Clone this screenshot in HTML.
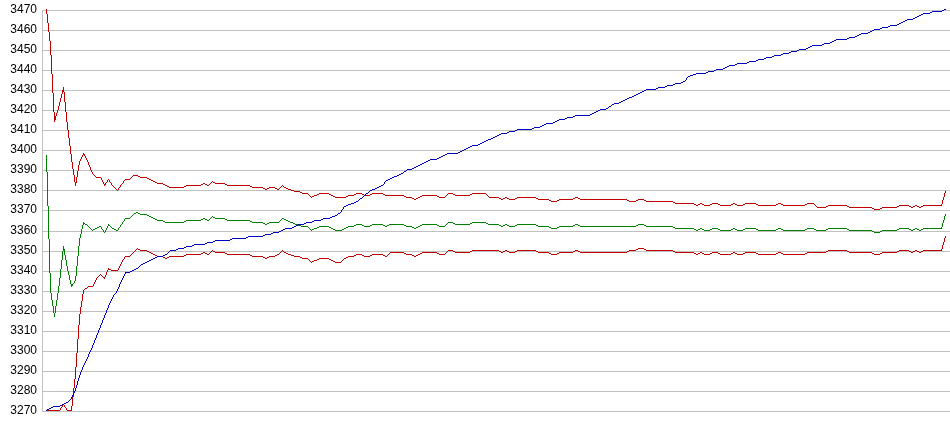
<!DOCTYPE html>
<html><head><meta charset="utf-8"><title>Chart</title>
<style>
html,body{margin:0;padding:0;background:#fff}
body{width:950px;height:435px;overflow:hidden;position:relative;font-family:"Liberation Sans",sans-serif}
svg{position:absolute;left:0;top:0;display:block}
text{font-family:"Liberation Sans",sans-serif;font-size:12px;fill:#000}
</style></head>
<body>
<svg width="950" height="435" viewBox="0 0 950 435">
<rect x="0" y="0" width="950" height="435" fill="#fff"/>
<g shape-rendering="crispEdges" fill="#c0c0c0">
<rect x="42" y="10" width="908" height="1"/>
<rect x="42" y="30" width="908" height="1"/>
<rect x="42" y="50" width="908" height="1"/>
<rect x="42" y="70" width="908" height="1"/>
<rect x="42" y="90" width="908" height="1"/>
<rect x="42" y="110" width="908" height="1"/>
<rect x="42" y="130" width="908" height="1"/>
<rect x="42" y="150" width="908" height="1"/>
<rect x="42" y="170" width="908" height="1"/>
<rect x="42" y="190" width="908" height="1"/>
<rect x="42" y="210" width="908" height="1"/>
<rect x="42" y="231" width="908" height="1"/>
<rect x="42" y="251" width="908" height="1"/>
<rect x="42" y="271" width="908" height="1"/>
<rect x="42" y="291" width="908" height="1"/>
<rect x="42" y="311" width="908" height="1"/>
<rect x="42" y="331" width="908" height="1"/>
<rect x="42" y="351" width="908" height="1"/>
<rect x="42" y="371" width="908" height="1"/>
<rect x="42" y="391" width="908" height="1"/>
<rect x="42" y="411" width="908" height="1"/>
<rect x="42" y="10" width="1" height="402"/>
</g>
<g text-anchor="end">
<text x="37" y="12.8">3470</text>
<text x="37" y="32.8">3460</text>
<text x="37" y="52.8">3450</text>
<text x="37" y="72.8">3440</text>
<text x="37" y="92.8">3430</text>
<text x="37" y="112.8">3420</text>
<text x="37" y="132.8">3410</text>
<text x="37" y="152.8">3400</text>
<text x="37" y="172.8">3390</text>
<text x="37" y="192.8">3380</text>
<text x="37" y="212.8">3370</text>
<text x="37" y="233.8">3360</text>
<text x="37" y="253.8">3350</text>
<text x="37" y="273.8">3340</text>
<text x="37" y="293.8">3330</text>
<text x="37" y="313.8">3320</text>
<text x="37" y="333.8">3310</text>
<text x="37" y="353.8">3300</text>
<text x="37" y="373.8">3290</text>
<text x="37" y="393.8">3280</text>
<text x="37" y="413.8">3270</text>
</g>
<g shape-rendering="crispEdges" stroke="none">
<path fill="#c00000" d="M46 9h1v5h-1zM47 14h1v9h-1zM48 23h1v9h-1zM49 32h1v9h-1zM50 41h1v14h-1zM51 55h1v19h-1zM52 74h1v19h-1zM53 93h1v19h-1zM54 112h1v4h-1zM54 116h2v1h-2zM54 117h2v1h-2zM54 118h2v1h-2zM54 119h2v1h-2zM54 120h1v2h-1zM56 113h1v3h-1zM57 110h1v3h-1zM58 106h1v4h-1zM59 102h1v4h-1zM60 98h1v4h-1zM61 94h1v4h-1zM62 90h2v1h-2zM62 91h2v1h-2zM62 92h1v2h-1zM63 87h1v3h-1zM64 92h1v10h-1zM65 102h1v10h-1zM66 112h1v10h-1zM67 122h1v8h-1zM68 130h1v8h-1zM69 138h1v8h-1zM70 146h1v8h-1zM71 154h1v8h-1zM72 162h1v7h-1zM73 169h1v6h-1zM74 175h1v7h-1zM75 182h2v1h-2zM75 183h1v3h-1zM76 177h1v5h-1zM77 171h1v6h-1zM78 165h1v6h-1zM79 161h1v4h-1zM80 159h1v2h-1zM81 157h1v2h-1zM82 155h1v2h-1zM83 153h1v1h-1zM83 154h2v1h-2zM84 155h1v1h-1zM85 156h1v2h-1zM86 158h1v2h-1zM87 160h1v2h-1zM88 162h1v3h-1zM89 165h1v2h-1zM90 167h1v3h-1zM91 170h1v2h-1zM92 172h1v2h-1zM93 174h1v1h-1zM94 175h1v1h-1zM95 176h1v1h-1zM96 177h5v1h-5zM101 178h1v2h-1zM102 180h1v2h-1zM103 182h1v2h-1zM104 184h2v1h-2zM104 185h1v1h-1zM105 183h1v1h-1zM106 182h1v1h-1zM107 180h1v2h-1zM108 179h1v1h-1zM109 180h1v2h-1zM110 182h1v1h-1zM111 183h1v2h-1zM112 185h1v1h-1zM113 186h1v1h-1zM114 187h1v1h-1zM115 188h1v1h-1zM116 189h1v1h-1zM117 190h1v1h-1zM118 188h1v2h-1zM119 187h1v1h-1zM120 185h1v2h-1zM121 184h1v1h-1zM122 183h1v1h-1zM123 181h1v2h-1zM124 180h1v1h-1zM125 179h5v1h-5zM130 178h1v1h-1zM131 177h1v1h-1zM132 176h1v1h-1zM133 175h5v1h-5zM138 176h2v1h-2zM140 177h7v1h-7zM147 178h2v1h-2zM149 179h2v1h-2zM151 180h2v1h-2zM153 181h2v1h-2zM155 182h2v1h-2zM157 183h6v1h-6zM163 184h2v1h-2zM165 185h2v1h-2zM167 186h2v1h-2zM169 187h15v1h-15zM184 186h2v1h-2zM186 185h15v1h-15zM201 184h2v1h-2zM203 183h2v1h-2zM205 184h2v1h-2zM207 185h2v1h-2zM209 184h1v1h-1zM210 183h1v1h-1zM211 182h1v1h-1zM212 181h1v1h-1zM213 182h2v1h-2zM215 183h10v1h-10zM225 184h2v1h-2zM227 185h23v1h-23zM250 186h2v1h-2zM252 187h11v1h-11zM263 188h2v1h-2zM265 189h2v1h-2zM267 188h2v1h-2zM269 187h6v1h-6zM275 188h2v1h-2zM277 189h2v1h-2zM279 188h1v1h-1zM280 187h1v1h-1zM281 186h1v1h-1zM282 185h1v1h-1zM283 186h1v1h-1zM284 187h2v1h-2zM286 188h2v1h-2zM288 189h3v1h-3zM291 190h3v1h-3zM294 191h6v1h-6zM300 192h2v1h-2zM302 193h6v1h-6zM308 194h1v1h-1zM309 195h1v1h-1zM310 196h1v1h-1zM311 197h1v1h-1zM312 196h2v1h-2zM314 195h3v1h-3zM317 194h2v1h-2zM319 193h10v1h-10zM329 194h2v1h-2zM331 195h2v1h-2zM333 196h2v1h-2zM335 197h11v1h-11zM346 196h2v1h-2zM348 195h6v1h-6zM354 194h2v1h-2zM356 193h6v1h-6zM362 194h2v1h-2zM364 195h6v1h-6zM370 194h2v1h-2zM372 193h11v1h-11zM383 194h2v1h-2zM385 195h19v1h-19zM404 196h2v1h-2zM406 197h6v1h-6zM412 198h2v1h-2zM414 199h2v1h-2zM416 198h2v1h-2zM418 197h2v1h-2zM420 196h2v1h-2zM422 195h15v1h-15zM437 196h2v1h-2zM439 197h6v1h-6zM445 196h1v1h-1zM446 195h1v1h-1zM447 194h1v1h-1zM448 193h5v1h-5zM453 194h2v1h-2zM455 195h15v1h-15zM470 194h2v1h-2zM472 193h14v1h-14zM486 194h1v1h-1zM487 195h1v1h-1zM488 196h1v1h-1zM489 197h10v1h-10zM499 198h2v1h-2zM501 199h2v1h-2zM503 198h2v1h-2zM505 197h2v1h-2zM507 198h2v1h-2zM509 199h6v1h-6zM515 198h2v1h-2zM517 197h19v1h-19zM536 198h2v1h-2zM538 199h11v1h-11zM549 200h2v1h-2zM551 201h6v1h-6zM557 200h2v1h-2zM559 199h14v1h-14zM573 198h2v1h-2zM575 197h3v1h-3zM578 198h2v1h-2zM580 199h47v1h-47zM627 200h2v1h-2zM629 201h7v1h-7zM636 200h2v1h-2zM638 199h6v1h-6zM644 200h2v1h-2zM646 201h27v1h-27zM673 202h2v1h-2zM675 203h19v1h-19zM694 204h2v1h-2zM696 205h2v1h-2zM698 204h2v1h-2zM700 203h2v1h-2zM702 204h2v1h-2zM704 205h6v1h-6zM710 204h2v1h-2zM712 203h6v1h-6zM718 204h2v1h-2zM720 205h11v1h-11zM731 204h2v1h-2zM733 203h2v1h-2zM735 204h2v1h-2zM737 205h6v1h-6zM743 204h2v1h-2zM745 203h11v1h-11zM756 204h2v1h-2zM758 205h18v1h-18zM776 204h2v1h-2zM778 203h3v1h-3zM781 204h2v1h-2zM783 205h22v1h-22zM805 204h2v1h-2zM807 203h7v1h-7zM814 204h1v1h-1zM815 205h1v1h-1zM816 206h1v1h-1zM817 207h9v1h-9zM826 206h2v1h-2zM828 205h19v1h-19zM847 206h2v1h-2zM849 207h23v1h-23zM872 208h2v1h-2zM874 209h6v1h-6zM880 208h2v1h-2zM882 207h15v1h-15zM897 206h2v1h-2zM899 205h10v1h-10zM909 206h2v1h-2zM911 207h2v1h-2zM913 206h2v1h-2zM915 205h2v1h-2zM917 206h2v1h-2zM919 207h2v1h-2zM921 206h2v1h-2zM923 205h19v1h-19zM941 204h1v1h-1zM942 200h1v4h-1zM943 197h1v3h-1zM944 193h1v4h-1zM945 191h1v2h-1z"/>
<path fill="#c00000" d="M46 410h14v1h-14zM60 408h1v2h-1zM61 407h1v1h-1zM62 405h1v2h-1zM63 404h1v1h-1zM64 405h1v2h-1zM65 407h1v1h-1zM66 408h1v2h-1zM67 410h5v1h-5zM71 406h1v4h-1zM72 397h1v9h-1zM73 388h1v9h-1zM74 379h1v9h-1zM75 367h1v12h-1zM76 353h1v14h-1zM77 339h1v14h-1zM78 325h1v14h-1zM79 314h1v11h-1zM80 307h1v7h-1zM81 301h1v6h-1zM82 294h1v7h-1zM83 290h1v4h-1zM84 289h1v1h-1zM85 288h2v1h-2zM87 287h1v1h-1zM88 286h5v1h-5zM93 284h1v2h-1zM94 282h1v2h-1zM95 280h1v2h-1zM96 278h1v2h-1zM97 277h1v1h-1zM98 276h1v1h-1zM99 275h1v1h-1zM100 274h1v1h-1zM101 275h1v1h-1zM102 276h1v1h-1zM103 277h2v1h-2zM104 278h1v1h-1zM105 275h1v2h-1zM106 272h1v3h-1zM107 270h1v2h-1zM108 268h1v1h-1zM108 269h3v1h-3zM111 270h7v1h-7zM118 268h1v2h-1zM119 266h1v2h-1zM120 264h1v2h-1zM121 262h1v2h-1zM122 260h1v2h-1zM123 259h1v1h-1zM124 257h1v2h-1zM125 256h5v1h-5zM130 255h1v1h-1zM131 254h1v1h-1zM132 253h1v1h-1zM133 252h1v1h-1zM134 251h1v1h-1zM135 250h1v1h-1zM136 249h1v1h-1zM137 248h1v1h-1zM138 249h2v1h-2zM140 250h7v1h-7zM147 251h2v1h-2zM149 252h2v1h-2zM151 253h2v1h-2zM153 254h2v1h-2zM155 255h2v1h-2zM157 256h6v1h-6zM163 257h2v1h-2zM165 258h2v1h-2zM167 257h2v1h-2zM169 256h15v1h-15zM184 255h2v1h-2zM186 254h15v1h-15zM201 253h2v1h-2zM203 252h2v1h-2zM205 253h2v1h-2zM207 254h2v1h-2zM209 253h1v1h-1zM210 252h1v1h-1zM211 251h1v1h-1zM212 250h1v1h-1zM213 251h2v1h-2zM215 252h10v1h-10zM225 253h2v1h-2zM227 254h23v1h-23zM250 255h2v1h-2zM252 256h11v1h-11zM263 257h2v1h-2zM265 258h2v1h-2zM267 257h2v1h-2zM269 256h6v1h-6zM275 255h2v1h-2zM277 254h2v1h-2zM279 253h1v1h-1zM280 252h1v1h-1zM281 251h1v1h-1zM282 250h1v1h-1zM283 251h1v1h-1zM284 252h2v1h-2zM286 253h2v1h-2zM288 254h3v1h-3zM291 255h3v1h-3zM294 256h6v1h-6zM300 257h2v1h-2zM302 258h6v1h-6zM308 259h1v1h-1zM309 260h1v1h-1zM310 261h1v1h-1zM311 262h1v1h-1zM312 261h2v1h-2zM314 260h3v1h-3zM317 259h2v1h-2zM319 258h10v1h-10zM329 259h2v1h-2zM331 260h2v1h-2zM333 261h2v1h-2zM335 262h6v1h-6zM341 261h1v1h-1zM342 260h1v1h-1zM343 259h1v1h-1zM344 258h2v1h-2zM346 257h2v1h-2zM348 256h6v1h-6zM354 255h2v1h-2zM356 254h6v1h-6zM362 255h2v1h-2zM364 256h6v1h-6zM370 255h2v1h-2zM372 254h11v1h-11zM383 255h2v1h-2zM385 256h2v1h-2zM387 255h1v1h-1zM388 254h1v1h-1zM389 253h1v1h-1zM390 252h14v1h-14zM404 253h2v1h-2zM406 254h6v1h-6zM412 255h2v1h-2zM414 256h2v1h-2zM416 255h2v1h-2zM418 254h2v1h-2zM420 253h2v1h-2zM422 252h15v1h-15zM437 253h2v1h-2zM439 254h6v1h-6zM445 253h1v1h-1zM446 252h1v1h-1zM447 251h1v1h-1zM448 250h5v1h-5zM453 251h2v1h-2zM455 252h15v1h-15zM470 251h2v1h-2zM472 250h27v1h-27zM499 251h2v1h-2zM501 252h2v1h-2zM503 251h2v1h-2zM505 250h2v1h-2zM507 251h2v1h-2zM509 252h6v1h-6zM515 251h2v1h-2zM517 250h19v1h-19zM536 251h2v1h-2zM538 252h11v1h-11zM549 253h2v1h-2zM551 254h6v1h-6zM557 253h2v1h-2zM559 252h14v1h-14zM573 251h2v1h-2zM575 250h3v1h-3zM578 251h2v1h-2zM580 252h47v1h-47zM627 251h2v1h-2zM629 250h7v1h-7zM636 249h2v1h-2zM638 248h6v1h-6zM644 249h2v1h-2zM646 250h27v1h-27zM673 251h2v1h-2zM675 252h19v1h-19zM694 253h2v1h-2zM696 254h2v1h-2zM698 253h2v1h-2zM700 252h2v1h-2zM702 253h2v1h-2zM704 254h6v1h-6zM710 253h2v1h-2zM712 252h6v1h-6zM718 253h2v1h-2zM720 254h11v1h-11zM731 253h2v1h-2zM733 252h2v1h-2zM735 253h2v1h-2zM737 254h6v1h-6zM743 253h2v1h-2zM745 252h11v1h-11zM756 253h2v1h-2zM758 254h18v1h-18zM776 253h2v1h-2zM778 252h3v1h-3zM781 253h2v1h-2zM783 254h22v1h-22zM805 253h2v1h-2zM807 252h19v1h-19zM826 251h2v1h-2zM828 250h19v1h-19zM847 251h2v1h-2zM849 252h23v1h-23zM872 253h2v1h-2zM874 254h6v1h-6zM880 253h2v1h-2zM882 252h15v1h-15zM897 251h2v1h-2zM899 250h10v1h-10zM909 251h2v1h-2zM911 252h2v1h-2zM913 251h2v1h-2zM915 250h2v1h-2zM917 251h2v1h-2zM919 252h2v1h-2zM921 251h2v1h-2zM923 250h19v1h-19zM941 249h1v1h-1zM942 245h1v4h-1zM943 242h1v3h-1zM944 238h1v4h-1zM945 236h1v2h-1z"/>
<path fill="#008000" d="M46 155h1v17h-1zM47 172h1v34h-1zM48 206h1v33h-1zM49 239h1v34h-1zM50 273h1v20h-1zM51 293h1v7h-1zM52 300h1v6h-1zM53 306h1v7h-1zM54 313h1v4h-1zM55 306h1v7h-1zM56 300h1v6h-1zM57 293h1v7h-1zM58 286h1v7h-1zM59 278h1v8h-1zM60 269h1v9h-1zM61 260h1v9h-1zM62 251h1v9h-1zM63 246h1v3h-1zM63 249h2v1h-2zM63 250h2v1h-2zM64 251h1v4h-1zM65 255h1v5h-1zM66 260h1v6h-1zM67 266h1v5h-1zM68 271h1v4h-1zM69 275h1v5h-1zM70 280h1v4h-1zM71 284h2v1h-2zM71 285h2v1h-2zM71 286h1v1h-1zM73 283h1v1h-1zM74 281h1v2h-1zM75 276h1v5h-1zM76 266h1v10h-1zM77 256h1v10h-1zM78 246h1v10h-1zM79 238h1v8h-1zM80 234h1v4h-1zM81 229h1v5h-1zM82 225h1v4h-1zM83 222h1v1h-1zM83 223h2v1h-2zM83 224h1v1h-1zM85 224h2v1h-2zM87 225h1v1h-1zM88 226h1v1h-1zM89 227h1v1h-1zM90 228h1v1h-1zM91 229h1v1h-1zM92 230h1v1h-1zM93 229h2v1h-2zM95 228h2v1h-2zM97 227h2v1h-2zM99 226h2v1h-2zM101 227h1v2h-1zM102 229h1v1h-1zM103 230h1v2h-1zM104 232h1v1h-1zM105 230h1v2h-1zM106 228h1v2h-1zM107 226h1v2h-1zM108 224h1v1h-1zM108 225h2v1h-2zM110 226h1v1h-1zM111 227h1v1h-1zM112 228h2v1h-2zM114 229h2v1h-2zM116 230h2v1h-2zM118 228h1v2h-1zM119 227h1v1h-1zM120 225h1v2h-1zM121 224h1v1h-1zM122 222h1v2h-1zM123 221h1v1h-1zM124 219h1v2h-1zM125 218h5v1h-5zM130 217h1v1h-1zM131 216h1v1h-1zM132 215h1v1h-1zM133 214h1v1h-1zM134 213h2v1h-2zM136 212h2v1h-2zM138 213h2v1h-2zM140 214h7v1h-7zM147 215h2v1h-2zM149 216h2v1h-2zM151 217h2v1h-2zM153 218h2v1h-2zM155 219h2v1h-2zM157 220h6v1h-6zM163 221h2v1h-2zM165 222h19v1h-19zM184 221h2v1h-2zM186 220h15v1h-15zM201 219h2v1h-2zM203 218h2v1h-2zM205 219h2v1h-2zM207 220h2v1h-2zM209 219h1v1h-1zM210 218h1v1h-1zM211 217h1v1h-1zM212 216h1v1h-1zM213 217h2v1h-2zM215 218h10v1h-10zM225 219h2v1h-2zM227 220h23v1h-23zM250 221h2v1h-2zM252 222h11v1h-11zM263 223h2v1h-2zM265 224h2v1h-2zM267 223h2v1h-2zM269 222h10v1h-10zM279 221h1v1h-1zM280 220h1v1h-1zM281 219h1v1h-1zM282 218h2v1h-2zM284 219h2v1h-2zM286 220h2v1h-2zM288 221h2v1h-2zM290 222h3v1h-3zM293 223h2v1h-2zM295 224h3v1h-3zM298 225h3v1h-3zM301 226h7v1h-7zM308 227h1v1h-1zM309 228h1v1h-1zM310 229h1v1h-1zM311 230h1v1h-1zM312 229h2v1h-2zM314 228h3v1h-3zM317 227h2v1h-2zM319 226h10v1h-10zM329 227h2v1h-2zM331 228h2v1h-2zM333 229h2v1h-2zM335 230h7v1h-7zM342 229h2v1h-2zM344 228h2v1h-2zM346 227h2v1h-2zM348 226h6v1h-6zM354 225h2v1h-2zM356 224h6v1h-6zM362 225h2v1h-2zM364 226h6v1h-6zM370 225h2v1h-2zM372 224h11v1h-11zM383 225h2v1h-2zM385 226h2v1h-2zM387 225h2v1h-2zM389 224h15v1h-15zM404 225h2v1h-2zM406 226h6v1h-6zM412 227h2v1h-2zM414 228h2v1h-2zM416 227h2v1h-2zM418 226h2v1h-2zM420 225h2v1h-2zM422 224h15v1h-15zM437 225h2v1h-2zM439 226h6v1h-6zM445 225h1v1h-1zM446 224h1v1h-1zM447 223h1v1h-1zM448 222h5v1h-5zM453 223h2v1h-2zM455 224h15v1h-15zM470 223h2v1h-2zM472 222h14v1h-14zM486 223h2v1h-2zM488 224h11v1h-11zM499 225h2v1h-2zM501 226h2v1h-2zM503 225h2v1h-2zM505 224h2v1h-2zM507 225h2v1h-2zM509 226h6v1h-6zM515 225h2v1h-2zM517 224h19v1h-19zM536 225h2v1h-2zM538 226h11v1h-11zM549 227h2v1h-2zM551 228h6v1h-6zM557 227h2v1h-2zM559 226h14v1h-14zM573 225h2v1h-2zM575 224h3v1h-3zM578 225h2v1h-2zM580 226h56v1h-56zM636 225h2v1h-2zM638 224h6v1h-6zM644 225h2v1h-2zM646 226h27v1h-27zM673 227h2v1h-2zM675 228h19v1h-19zM694 229h2v1h-2zM696 230h2v1h-2zM698 229h2v1h-2zM700 228h2v1h-2zM702 229h2v1h-2zM704 230h6v1h-6zM710 229h2v1h-2zM712 228h6v1h-6zM718 229h2v1h-2zM720 230h11v1h-11zM731 229h2v1h-2zM733 228h2v1h-2zM735 229h2v1h-2zM737 230h6v1h-6zM743 229h2v1h-2zM745 228h11v1h-11zM756 229h2v1h-2zM758 230h18v1h-18zM776 229h2v1h-2zM778 228h3v1h-3zM781 229h2v1h-2zM783 230h22v1h-22zM805 229h2v1h-2zM807 228h7v1h-7zM814 229h2v1h-2zM816 230h10v1h-10zM826 229h2v1h-2zM828 228h19v1h-19zM847 229h2v1h-2zM849 230h23v1h-23zM872 231h2v1h-2zM874 232h6v1h-6zM880 231h2v1h-2zM882 230h15v1h-15zM897 229h2v1h-2zM899 228h10v1h-10zM909 229h2v1h-2zM911 230h2v1h-2zM913 229h2v1h-2zM915 228h2v1h-2zM917 229h2v1h-2zM919 230h2v1h-2zM921 229h2v1h-2zM923 228h19v1h-19zM941 227h1v1h-1zM942 223h1v4h-1zM943 220h1v3h-1zM944 216h1v4h-1zM945 214h1v2h-1z"/>
<path fill="#0000c0" d="M46 410h1v1h-1zM47 409h2v1h-2zM49 408h2v1h-2zM51 407h2v1h-2zM53 406h7v1h-7zM60 405h2v1h-2zM62 404h2v1h-2zM64 403h2v1h-2zM66 402h2v1h-2zM68 401h1v1h-1zM69 400h1v1h-1zM70 399h1v1h-1zM71 397h1v2h-1zM72 395h1v2h-1zM73 393h1v2h-1zM74 391h1v2h-1zM75 388h1v3h-1zM76 385h1v3h-1zM77 381h1v4h-1zM78 378h1v3h-1zM79 375h1v3h-1zM80 372h1v3h-1zM81 370h1v2h-1zM82 367h1v3h-1zM83 365h1v2h-1zM84 363h1v2h-1zM85 361h1v2h-1zM86 359h1v2h-1zM87 357h1v2h-1zM88 354h1v3h-1zM89 352h1v2h-1zM90 350h1v2h-1zM91 348h1v2h-1zM92 345h1v3h-1zM93 343h1v2h-1zM94 340h1v3h-1zM95 338h1v2h-1zM96 335h1v3h-1zM97 333h1v2h-1zM98 330h1v3h-1zM99 328h1v2h-1zM100 325h1v3h-1zM101 323h1v2h-1zM102 320h1v3h-1zM103 318h1v2h-1zM104 315h1v3h-1zM105 313h1v2h-1zM106 310h1v3h-1zM107 308h1v2h-1zM108 305h1v3h-1zM109 303h1v2h-1zM110 301h1v2h-1zM111 299h1v2h-1zM112 297h1v2h-1zM113 295h1v2h-1zM114 294h1v1h-1zM115 293h1v1h-1zM116 291h1v2h-1zM117 289h1v2h-1zM118 287h1v2h-1zM119 284h1v3h-1zM120 282h1v2h-1zM121 280h1v2h-1zM122 278h1v2h-1zM123 276h1v2h-1zM124 274h1v2h-1zM125 272h5v1h-5zM125 273h1v1h-1zM130 271h2v1h-2zM132 270h2v1h-2zM134 269h2v1h-2zM136 268h2v1h-2zM138 267h1v1h-1zM139 266h1v1h-1zM140 265h1v1h-1zM141 264h2v1h-2zM143 263h2v1h-2zM145 262h2v1h-2zM147 261h2v1h-2zM149 260h2v1h-2zM151 259h2v1h-2zM153 258h2v1h-2zM155 257h2v1h-2zM157 256h6v1h-6zM163 255h2v1h-2zM165 254h2v1h-2zM167 253h1v1h-1zM168 252h1v1h-1zM169 251h1v1h-1zM170 250h6v1h-6zM176 249h2v1h-2zM178 248h6v1h-6zM184 247h2v1h-2zM186 246h6v1h-6zM192 245h2v1h-2zM194 244h11v1h-11zM205 243h2v1h-2zM207 242h6v1h-6zM213 241h2v1h-2zM215 240h15v1h-15zM230 239h2v1h-2zM232 238h14v1h-14zM246 237h2v1h-2zM248 236h15v1h-15zM263 235h2v1h-2zM265 234h6v1h-6zM271 233h2v1h-2zM273 232h6v1h-6zM279 231h2v1h-2zM281 230h2v1h-2zM283 229h2v1h-2zM285 228h7v1h-7zM292 227h2v1h-2zM294 226h2v1h-2zM296 225h2v1h-2zM298 224h6v1h-6zM304 223h2v1h-2zM306 222h6v1h-6zM312 221h2v1h-2zM314 220h7v1h-7zM321 219h2v1h-2zM323 218h7v1h-7zM330 217h2v1h-2zM332 216h3v1h-3zM335 215h2v1h-2zM337 214h1v1h-1zM338 213h2v1h-2zM340 212h1v1h-1zM341 210h1v2h-1zM342 209h1v1h-1zM343 207h1v2h-1zM344 206h2v1h-2zM346 205h2v1h-2zM348 204h3v1h-3zM351 203h3v1h-3zM354 202h2v1h-2zM356 201h2v1h-2zM358 200h1v1h-1zM359 199h1v1h-1zM360 198h2v1h-2zM362 197h1v1h-1zM363 196h1v1h-1zM364 195h1v1h-1zM365 194h1v1h-1zM366 193h2v1h-2zM368 192h1v1h-1zM369 191h1v1h-1zM370 190h2v1h-2zM372 189h3v1h-3zM375 188h2v1h-2zM377 187h2v1h-2zM379 186h2v1h-2zM381 185h2v1h-2zM383 184h1v1h-1zM384 182h1v2h-1zM385 181h1v1h-1zM386 180h2v1h-2zM388 179h2v1h-2zM390 178h2v1h-2zM392 177h2v1h-2zM394 176h3v1h-3zM397 175h2v1h-2zM399 174h2v1h-2zM401 173h2v1h-2zM403 172h1v1h-1zM404 171h2v1h-2zM406 170h1v1h-1zM407 169h5v1h-5zM412 168h2v1h-2zM414 167h2v1h-2zM416 166h2v1h-2zM418 165h2v1h-2zM420 164h2v1h-2zM422 163h2v1h-2zM424 162h2v1h-2zM426 161h2v1h-2zM428 160h2v1h-2zM430 159h7v1h-7zM437 158h2v1h-2zM439 157h2v1h-2zM441 156h2v1h-2zM443 155h2v1h-2zM445 154h2v1h-2zM447 153h11v1h-11zM458 152h2v1h-2zM460 151h2v1h-2zM462 150h2v1h-2zM464 149h2v1h-2zM466 148h2v1h-2zM468 147h2v1h-2zM470 146h2v1h-2zM472 145h6v1h-6zM478 144h2v1h-2zM480 143h2v1h-2zM482 142h2v1h-2zM484 141h2v1h-2zM486 140h2v1h-2zM488 139h3v1h-3zM491 138h2v1h-2zM493 137h2v1h-2zM495 136h2v1h-2zM497 135h2v1h-2zM499 134h2v1h-2zM501 133h6v1h-6zM507 132h2v1h-2zM509 131h6v1h-6zM515 130h2v1h-2zM517 129h15v1h-15zM532 128h2v1h-2zM534 127h6v1h-6zM540 126h2v1h-2zM542 125h2v1h-2zM544 124h2v1h-2zM546 123h7v1h-7zM553 122h2v1h-2zM555 121h2v1h-2zM557 120h2v1h-2zM559 119h6v1h-6zM565 118h2v1h-2zM567 117h6v1h-6zM573 116h2v1h-2zM575 115h15v1h-15zM590 114h2v1h-2zM592 113h2v1h-2zM594 112h2v1h-2zM596 111h2v1h-2zM598 110h2v1h-2zM600 109h6v1h-6zM606 108h2v1h-2zM608 107h1v1h-1zM609 106h2v1h-2zM611 105h1v1h-1zM612 104h2v1h-2zM614 103h5v1h-5zM619 102h2v1h-2zM621 101h2v1h-2zM623 100h2v1h-2zM625 99h2v1h-2zM627 98h2v1h-2zM629 97h3v1h-3zM632 96h2v1h-2zM634 95h2v1h-2zM636 94h2v1h-2zM638 93h2v1h-2zM640 92h2v1h-2zM642 91h2v1h-2zM644 90h2v1h-2zM646 89h10v1h-10zM656 88h2v1h-2zM658 87h7v1h-7zM665 86h2v1h-2zM667 85h6v1h-6zM673 84h2v1h-2zM675 83h6v1h-6zM681 82h2v1h-2zM683 81h2v1h-2zM685 80h1v1h-1zM686 78h1v2h-1zM687 77h1v1h-1zM688 76h2v1h-2zM690 75h3v1h-3zM693 74h3v1h-3zM696 73h10v1h-10zM706 72h2v1h-2zM708 71h6v1h-6zM714 70h2v1h-2zM716 69h7v1h-7zM723 68h2v1h-2zM725 67h2v1h-2zM727 66h2v1h-2zM729 65h6v1h-6zM735 64h2v1h-2zM737 63h10v1h-10zM747 62h2v1h-2zM749 61h7v1h-7zM756 60h2v1h-2zM758 59h6v1h-6zM764 58h2v1h-2zM766 57h6v1h-6zM772 56h2v1h-2zM774 55h7v1h-7zM781 54h2v1h-2zM783 53h6v1h-6zM789 52h2v1h-2zM791 51h6v1h-6zM797 50h2v1h-2zM799 49h7v1h-7zM806 48h2v1h-2zM808 47h2v1h-2zM810 46h2v1h-2zM812 45h10v1h-10zM822 44h2v1h-2zM824 43h6v1h-6zM830 42h2v1h-2zM832 41h2v1h-2zM834 40h2v1h-2zM836 39h11v1h-11zM847 38h2v1h-2zM849 37h6v1h-6zM855 36h2v1h-2zM857 35h2v1h-2zM859 34h2v1h-2zM861 33h7v1h-7zM868 32h2v1h-2zM870 31h2v1h-2zM872 30h2v1h-2zM874 29h6v1h-6zM880 28h2v1h-2zM882 27h6v1h-6zM888 26h2v1h-2zM890 25h7v1h-7zM897 24h2v1h-2zM899 23h2v1h-2zM901 22h2v1h-2zM903 21h2v1h-2zM905 20h2v1h-2zM907 19h6v1h-6zM913 18h2v1h-2zM915 17h2v1h-2zM917 16h2v1h-2zM919 15h2v1h-2zM921 14h2v1h-2zM923 13h7v1h-7zM930 12h2v1h-2zM932 11h10v1h-10zM942 10h2v1h-2zM944 9h2v1h-2z"/>
</g>
</svg>
</body></html>
